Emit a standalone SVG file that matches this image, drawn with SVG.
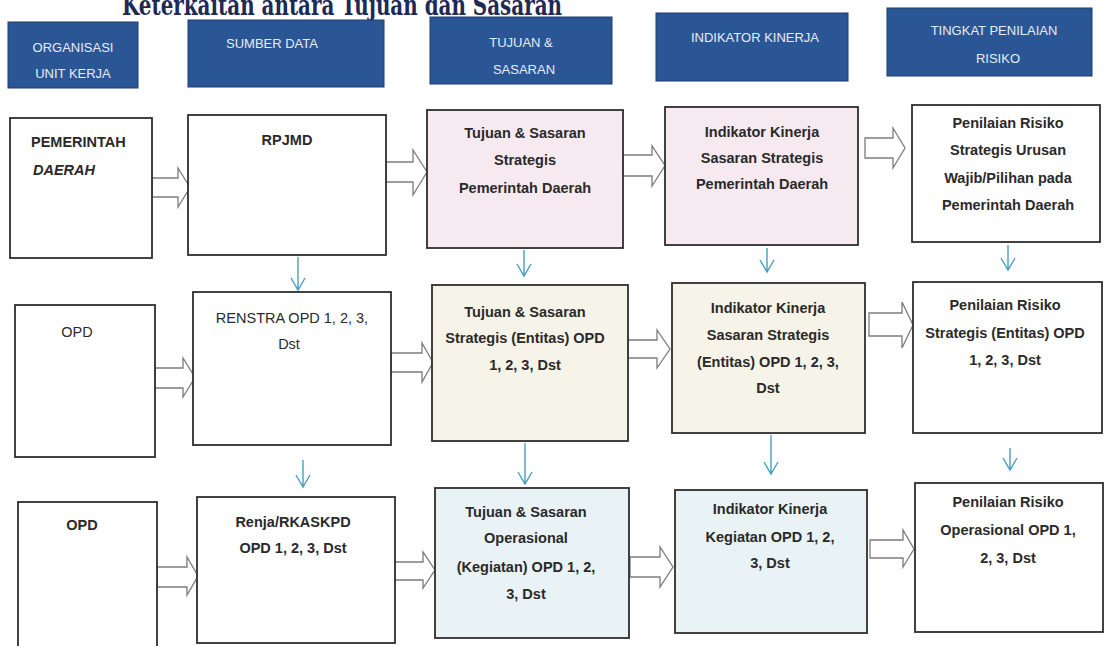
<svg xmlns="http://www.w3.org/2000/svg" width="1104" height="646" viewBox="0 0 1104 646">
<style>
.hdr{fill:#2b5696;stroke:#1d3d70;stroke-width:1}
.ht{font-family:"Liberation Sans",Arial,sans-serif;font-size:13px;fill:#e6ecf5;text-anchor:middle}
.box{stroke:#2e2e2e;stroke-width:1.8}
.w{fill:#ffffff}.pk{fill:#f6e9f0}.cr{fill:#f6f3e8}.bl{fill:#e9f2f5}
.t{font-family:"Liberation Sans",Arial,sans-serif;font-size:14.5px;fill:#2a2a2a;text-anchor:middle;font-weight:bold}
.n{font-weight:normal}
.blk{fill:#ffffff;stroke:#7c7c7c;stroke-width:1.3;stroke-linejoin:miter}
.vl{stroke:#4a9ec4;stroke-width:1.4;fill:none}
.title{font-family:"DejaVu Serif","Liberation Serif",serif;font-weight:bold;font-size:28px;fill:#1e2a55}
</style>
<rect width="1104" height="646" fill="#ffffff"/>
<text class="title" x="122" y="15" textLength="440" lengthAdjust="spacingAndGlyphs">Keterkaitan antara Tujuan dan Sasaran</text>

<g id="headers">
<g id="h1"><rect class="hdr" x="8" y="22" width="130" height="66"/><text class="ht" x="73" y="52">ORGANISASI</text><text class="ht" x="73" y="78">UNIT KERJA</text></g>
<g id="h2"><rect class="hdr" x="188" y="20" width="196" height="67"/><text class="ht" x="272" y="48">SUMBER DATA</text></g>
<g id="h3"><rect class="hdr" x="430" y="17" width="182" height="67"/><text class="ht" x="521" y="47">TUJUAN &amp;</text><text class="ht" x="524" y="74">SASARAN</text></g>
<g id="h4"><rect class="hdr" x="656" y="13" width="192" height="68"/><text class="ht" x="755" y="42">INDIKATOR KINERJA</text></g>
<g id="h5"><rect class="hdr" x="887" y="8" width="205" height="68"/><text class="ht" x="994" y="35">TINGKAT PENILAIAN</text><text class="ht" x="998" y="63">RISIKO</text></g>
</g>

<g id="connectors">
<path class="blk" d="M152,178H178V168L190,187.5L178,207V197H152Z"/>
<path class="blk" d="M386,162H413V150L427,172L413,195V182H386Z"/>
<path class="blk" d="M623,155H652V146L665,165.5L652,186V176H623Z"/>
<path class="blk" d="M865,138H893V128L905,148L893,168V158H865Z"/>
<path class="blk" d="M155,368H183V358L195,377.5L183,397V388H155Z"/>
<path class="blk" d="M391,353H422V343L433,362.5L422,382V372H391Z"/>
<path class="blk" d="M628,340H657V330L670,349L657,368V358H628Z"/>
<path class="blk" d="M869,313H902V302L913,325L902,348V336H869Z"/>
<path class="blk" d="M157,567H187V557L198,576L187,595V587H157Z"/>
<path class="blk" d="M395,562H423V552L435,570L423,588V580H395Z"/>
<path class="blk" d="M630,557H660V547L673,567L660,587V577H630Z"/>
<path class="blk" d="M870,540H903V530L914,549L903,567V558H870Z"/>
<g class="vl">
<path d="M298,257V290M291,278L298,290L305,278"/>
<path d="M524,250V276M517,264L524,276L531,264"/>
<path d="M767,248V272M760,260L767,272L774,260"/>
<path d="M1008,245V270M1001,258L1008,270L1015,258"/>
<path d="M303,460V487M296,475L303,487L310,475"/>
<path d="M525,443V484M518,472L525,484L532,472"/>
<path d="M771,435V474M764,462L771,474L778,462"/>
<path d="M1010,448V470M1003,458L1010,470L1017,458"/>
</g>
</g>

<g id="a1"><rect class="box w" x="10" y="118" width="142" height="140"/><text class="t" x="31" y="147" style="text-anchor:start">PEMERINTAH</text><text class="t" x="33" y="175" style="text-anchor:start;font-style:italic">DAERAH</text></g>
<g id="b1"><rect class="box w" x="188" y="115" width="198" height="140"/><text class="t" x="287" y="145">RPJMD</text></g>
<g id="c1"><rect class="box pk" x="427" y="110" width="196" height="138"/><text class="t" x="525" y="138">Tujuan &amp; Sasaran</text><text class="t" x="525" y="165">Strategis</text><text class="t" x="525" y="193">Pemerintah Daerah</text></g>
<g id="d1"><rect class="box pk" x="665" y="107" width="193" height="138"/><text class="t" x="762" y="137">Indikator Kinerja</text><text class="t" x="762" y="163">Sasaran Strategis</text><text class="t" x="762" y="189">Pemerintah Daerah</text></g>
<g id="e1"><rect class="box w" x="912" y="105" width="188" height="137"/><text class="t" x="1008" y="128">Penilaian Risiko</text><text class="t" x="1008" y="155">Strategis Urusan</text><text class="t" x="1008" y="183">Wajib/Pilihan pada</text><text class="t" x="1008" y="210">Pemerintah Daerah</text></g>

<g id="a2"><rect class="box w" x="15" y="305" width="140" height="152"/><text class="t n" x="77" y="337">OPD</text></g>
<g id="b2"><rect class="box w" x="193" y="292" width="198" height="153"/><text class="t n" x="292" y="323">RENSTRA OPD 1, 2, 3,</text><text class="t n" x="289" y="349">Dst</text></g>
<g id="c2"><rect class="box cr" x="432" y="285" width="196" height="156"/><text class="t" x="525" y="317">Tujuan &amp; Sasaran</text><text class="t" x="525" y="343">Strategis (Entitas) OPD</text><text class="t" x="525" y="370">1, 2, 3, Dst</text></g>
<g id="d2"><rect class="box cr" x="672" y="283" width="193" height="150"/><text class="t" x="768" y="313">Indikator Kinerja</text><text class="t" x="768" y="340">Sasaran Strategis</text><text class="t" x="768" y="367">(Entitas) OPD 1, 2, 3,</text><text class="t" x="768" y="393">Dst</text></g>
<g id="e2"><rect class="box w" x="913" y="282" width="189" height="151"/><text class="t" x="1005" y="310">Penilaian Risiko</text><text class="t" x="1005" y="338">Strategis (Entitas) OPD</text><text class="t" x="1005" y="365">1, 2, 3, Dst</text></g>

<g id="a3"><rect class="box w" x="18" y="502" width="139" height="150"/><text class="t" x="82" y="530">OPD</text></g>
<g id="b3"><rect class="box w" x="197" y="497" width="198" height="146"/><text class="t" x="293" y="527">Renja/RKASKPD</text><text class="t" x="293" y="553">OPD 1, 2, 3, Dst</text></g>
<g id="c3"><rect class="box bl" x="435" y="488" width="194" height="150"/><text class="t" x="526" y="517">Tujuan &amp; Sasaran</text><text class="t" x="526" y="543">Operasional</text><text class="t" x="526" y="572">(Kegiatan) OPD 1, 2,</text><text class="t" x="526" y="599">3, Dst</text></g>
<g id="d3"><rect class="box bl" x="675" y="490" width="192" height="143"/><text class="t" x="770" y="514">Indikator Kinerja</text><text class="t" x="770" y="542">Kegiatan OPD 1, 2,</text><text class="t" x="770" y="568">3, Dst</text></g>
<g id="e3"><rect class="box w" x="915" y="483" width="188" height="149"/><text class="t" x="1008" y="507">Penilaian Risiko</text><text class="t" x="1008" y="535">Operasional OPD 1,</text><text class="t" x="1008" y="563">2, 3, Dst</text></g>
</svg>
